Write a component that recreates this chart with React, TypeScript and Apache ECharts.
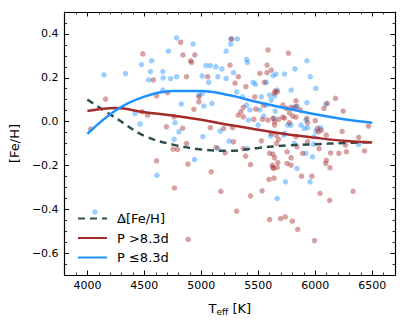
import React, { useEffect, useRef } from "react";
import * as echarts from "echarts";

// Fitted curves (sampled every 250 K)
const curveT = [4000, 4250, 4500, 4750, 5000, 5250, 5500, 5750, 6000, 6250, 6500];
const deltaFeH = [0.1, 0.016, -0.065, -0.105, -0.127, -0.133, -0.12, -0.109, -0.103, -0.098, -0.094];
const longP = [0.048, 0.062, 0.043, 0.028, 0.008, -0.016, -0.037, -0.058, -0.074, -0.088, -0.096];
const shortP = [-0.056, 0.052, 0.114, 0.139, 0.14, 0.12, 0.088, 0.06, 0.033, 0.011, -0.005];

// Stars with P > 8.3 d
const redT = [4486, 4818, 4839, 4943, 4905, 4915, 4579, 4159, 4607, 4703, 4480, 4529, 4761, 4694, 4028, 4836, 5267, 5585, 5252, 4870, 5056, 5513, 5577, 5577, 5553, 5325, 5296, 5391, 5469, 4980, 4978, 4935, 5079, 5195, 5276, 5325, 5348, 5478, 5369, 5461, 5536, 5585, 5629, 5369, 5547, 5764, 5614, 5649, 5666, 5640, 5831, 6178, 6106, 6077, 6245, 5716, 5747, 5788, 5831, 5868, 5773, 5802, 5831, 5678, 5716, 5730, 5643, 5643, 5927, 5933, 6000, 6019, 6054, 6236, 6467, 5773, 4752, 4792, 4607, 4764, 4870, 5130, 5209, 5282, 5369, 5389, 5432, 5527, 5599, 5623, 5634, 5594, 5638, 5643, 4882, 5087, 5171, 5432, 5533, 5310, 5599, 4885, 5614, 5657, 5678, 5660, 5831, 5933, 6028, 6097, 6381, 6265, 6433, 5840, 6033, 5753, 5788, 5889, 6135, 6207, 6274, 5629, 5672, 5753, 5788, 5629, 5666, 6097, 6092, 6129, 5880, 5970, 6042, 6332, 6126, 5736, 5695, 5799, 5846, 5993];
const redFe = [0.309, 0.362, 0.304, 0.304, 0.277, 0.27, 0.19, 0.103, 0.117, 0.132, 0.045, 0.03, 0.022, -0.024, -0.034, -0.03, 0.377, 0.327, 0.258, 0.205, 0.205, 0.22, 0.258, 0.223, 0.179, 0.205, 0.175, 0.159, 0.113, 0.113, 0.09, 0.056, -0.028, -0.031, -0.028, 0.03, 0.045, 0.057, 0.022, 0.01, 0.01, 0.007, 0.015, 0.065, 0.075, 0.312, 0.235, 0.139, 0.135, 0.13, 0.095, 0.106, 0.083, 0.06, 0.048, 0.075, 0.06, 0.065, 0.068, 0.053, 0.04, 0.025, 0.02, 0.01, 0.02, 0.016, -0.001, -0.016, 0.015, -0.005, 0.004, -0.031, -0.039, -0.045, -0.021, -0.005, -0.126, -0.127, -0.179, -0.303, -0.1, -0.118, -0.143, -0.092, -0.123, -0.158, -0.196, -0.088, -0.145, -0.199, -0.214, -0.264, -0.258, -0.165, -0.194, -0.229, -0.318, -0.339, -0.316, -0.409, -0.447, -0.537, -0.054, -0.062, -0.081, -0.1, -0.069, -0.092, -0.047, -0.062, -0.072, -0.107, -0.134, -0.115, -0.123, -0.138, -0.165, -0.145, -0.143, -0.145, -0.138, -0.149, -0.187, -0.191, -0.199, -0.209, -0.209, -0.176, -0.191, -0.211, -0.249, -0.249, -0.328, -0.318, -0.359, -0.435, -0.443, -0.454, -0.492, -0.543];

// Stars with P <= 8.3 d
const blueT = [4145, 4335, 4783, 4711, 4564, 4474, 4553, 4662, 4538, 4665, 4731, 4783, 4662, 4824, 4419, 4462, 4770, 4804, 4928, 5258, 5316, 5258, 5218, 5397, 5405, 5041, 5079, 5128, 5180, 5282, 5007, 5145, 5218, 5065, 5455, 5475, 5629, 5571, 4978, 5007, 5310, 5362, 5527, 5599, 5021, 5093, 5397, 5426, 5513, 5571, 5614, 5547, 5499, 5414, 5166, 5927, 5730, 5822, 5655, 5956, 5788, 6005, 5666, 5643, 5927, 6092, 5811, 5840, 5649, 5638, 5918, 5759, 5788, 5875, 5903, 5933, 6005, 6044, 5730, 4761, 4610, 4066, 4318, 5013, 5244, 5145, 4940, 5403, 5608, 5724, 5990, 5816, 5918, 5985, 5976, 6381, 5840, 5955, 5738, 5666];
const blueFe = [0.213, 0.219, 0.382, 0.321, 0.278, 0.26, 0.228, 0.228, 0.19, 0.199, 0.196, 0.205, 0.144, 0.08, 0.037, -0.011, -0.005, -0.047, 0.354, 0.377, 0.377, 0.354, 0.322, 0.284, 0.27, 0.255, 0.255, 0.25, 0.24, 0.223, 0.208, 0.205, 0.197, 0.179, 0.179, 0.17, 0.21, 0.179, 0.121, 0.128, 0.136, 0.113, 0.113, 0.121, 0.071, 0.083, 0.075, 0.053, 0.053, 0.075, 0.098, 0.025, -0.016, 0.007, -0.043, 0.278, 0.217, 0.24, 0.217, 0.205, 0.144, 0.152, 0.144, 0.117, 0.086, 0.08, 0.065, 0.07, 0.048, 0.015, 0.007, -0.016, -0.016, -0.016, -0.031, -0.028, -0.043, -0.028, -0.054, -0.081, -0.245, -0.412, -0.447, -0.069, -0.089, -0.123, -0.173, -0.123, -0.066, -0.062, -0.069, -0.1, -0.145, -0.103, -0.161, -0.104, -0.214, -0.275, -0.275, -0.351];

const xTicks = [4000, 4500, 5000, 5500, 6000, 6500];
const yTicks = [-0.6, -0.4, -0.2, 0.0, 0.2, 0.4];

const legendNames = ["\u0394[Fe/H]", "P >8.3d", "P \u22648.3d"];

const FONT = "DejaVu Sans";

function fmtY(v: number) {
  const s = Math.abs(v).toFixed(1);
  return v < -1e-9 ? "\u2212" + s : s;
}

export default function App() {
  const ref = useRef<HTMLDivElement>(null);
  useEffect(() => {
    document.body.style.margin = "0";
    if (!ref.current) return;
    const chart = echarts.init(ref.current, undefined, { renderer: "svg" });
    const line = { show: true, onZero: false, lineStyle: { color: "#000", width: 1.2 } };
    const majorX = (pos: string, labels: boolean, name: boolean) => ({
      type: "value",
      min: 3800,
      max: 6700,
      position: pos,
      axisLine: line,
      axisTick: { show: true, inside: true, length: 4.5, customValues: xTicks, lineStyle: { color: "#000", width: 1 } },
      axisLabel: {
        show: labels,
        customValues: xTicks,
        formatter: (v: number) => String(Math.round(v)),
        color: "#000",
        fontSize: 11,
        fontFamily: FONT,
        margin: 5,
      },
      splitLine: { show: false },
      ...(name
        ? {
            name: "T{sub|eff} [K]",
            nameLocation: "middle",
            nameGap: 26,
            nameTextStyle: {
              color: "#000",
              fontSize: 13,
              fontFamily: FONT,
              rich: { sub: { fontSize: 9, fontFamily: FONT, color: "#000", verticalAlign: "bottom", padding: [6, 0, 0, 0] } },
            },
          }
        : {}),
    });
    const minorX = (pos: string) => ({
      type: "value",
      min: 3800,
      max: 6700,
      interval: 100,
      position: pos,
      axisLine: { show: false, onZero: false },
      axisTick: { show: true, inside: true, length: 2.5, lineStyle: { color: "#000", width: 0.8 } },
      axisLabel: { show: false },
      splitLine: { show: false },
    });
    const majorY = (pos: string, labels: boolean, name: boolean) => ({
      type: "value",
      min: -0.7,
      max: 0.5,
      position: pos,
      axisLine: line,
      axisTick: { show: true, inside: true, length: 4.5, customValues: yTicks, lineStyle: { color: "#000", width: 1 } },
      axisLabel: {
        show: labels,
        customValues: yTicks,
        formatter: (v: number) => fmtY(v),
        color: "#000",
        fontSize: 11,
        fontFamily: FONT,
        margin: 6,
      },
      splitLine: { show: false },
      ...(name
        ? {
            name: "[Fe/H]",
            nameLocation: "middle",
            nameGap: 33,
            nameTextStyle: { color: "#000", fontSize: 13, fontFamily: FONT },
          }
        : {}),
    });
    const minorY = (pos: string) => ({
      type: "value",
      min: -0.7,
      max: 0.5,
      interval: 0.05,
      position: pos,
      axisLine: { show: false, onZero: false },
      axisTick: { show: true, inside: true, length: 2.5, lineStyle: { color: "#000", width: 0.8 } },
      axisLabel: { show: false },
      splitLine: { show: false },
    });

    const pts = (xs: number[], ys: number[]) => xs.map((x, i) => [x, ys[i]]);

    chart.setOption({
      animation: false,
      grid: { left: 61, right: 12, top: 12, bottom: 51, containLabel: false },
      xAxis: [majorX("bottom", true, true), minorX("bottom"), majorX("top", false, false), minorX("top")],
      yAxis: [majorY("left", true, true), minorY("left"), majorY("right", false, false), minorY("right")],
      legend: {
        data: legendNames,
        orient: "vertical",
        left: 72,
        top: 207,
        itemWidth: 29,
        itemHeight: 14,
        itemGap: 6.5,
        itemStyle: { opacity: 0 },
        textStyle: { color: "#000", fontSize: 13, fontFamily: FONT, padding: [0, 0, 0, 5] },
        selectedMode: false,
      },
      series: [
        {
          name: "short scatter",
          type: "scatter",
          data: pts(blueT, blueFe),
          symbolSize: 5.5,
          itemStyle: { color: "rgba(30,144,255,0.55)" },
          z: 1,
        },
        {
          name: "long scatter",
          type: "scatter",
          data: pts(redT, redFe),
          symbolSize: 5.5,
          itemStyle: { color: "rgba(165,42,42,0.55)" },
          z: 1,
        },
        {
          name: legendNames[0],
          type: "line",
          data: pts(curveT, deltaFeH),
          smooth: 0.4,
          showSymbol: false,
          symbol: "none",
          lineStyle: { color: "#2f4f4f", width: 2.5, type: [7, 5] },
          itemStyle: { color: "#2f4f4f" },
          z: 3,
        },
        {
          name: legendNames[1],
          type: "line",
          data: pts(curveT, longP),
          smooth: 0.4,
          showSymbol: false,
          symbol: "none",
          lineStyle: { color: "#a52a2a", width: 2.5 },
          itemStyle: { color: "#a52a2a" },
          z: 3,
        },
        {
          name: legendNames[2],
          type: "line",
          data: pts(curveT, shortP),
          smooth: 0.4,
          showSymbol: false,
          symbol: "none",
          lineStyle: { color: "#1e90ff", width: 2.5 },
          itemStyle: { color: "#1e90ff" },
          z: 3,
        },
      ],
    });
    return () => chart.dispose();
  }, []);
  return <div ref={ref} style={{ width: 407, height: 326 }} />;
}
